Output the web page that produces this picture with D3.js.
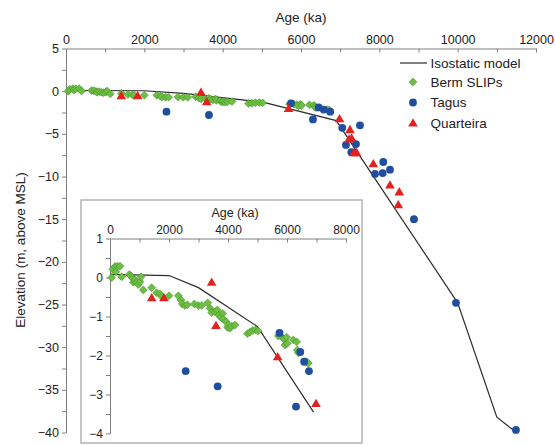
<!DOCTYPE html>
<html>
<head>
<meta charset="utf-8">
<script src="https://cdn.jsdelivr.net/npm/d3@7"></script>
<style>
  body { margin: 0; background: #fff; }
  svg { display: block; font-family: "Liberation Sans", Arial, sans-serif; }
  .axis path, .axis line { stroke: #808080; }
  .axis text { fill: #222; }
</style>
</head>
<body>
<script>
// age (ka) / elevation (m) pairs
var bermSlips = [
  [57, 0.0], [90, 0.21], [169, 0.28], [203, 0.15], [249, 0.29], [339, 0.29],
  [396, 0.02], [655, 0.08], [712, 0.04], [768, -0.02], [791, -0.12], [847, -0.06],
  [904, -0.13], [960, -0.18], [1017, -0.11], [1051, 0.02], [1130, -0.32],
  [1413, -0.26], [1582, -0.39], [1695, -0.42], [1751, -0.49], [2000, -0.47],
  [2316, -0.47], [2407, -0.58], [2452, -0.68], [2542, -0.72], [2621, -0.70],
  [2859, -0.68], [2994, -0.72], [3107, -0.72], [3311, -0.65], [3390, -0.79],
  [3446, -0.90], [3559, -0.88], [3638, -0.83], [3695, -0.96], [3751, -1.02],
  [3819, -0.92], [3841, -1.07], [3932, -1.13], [3989, -1.28], [4011, -1.22],
  [4068, -1.30], [4124, -1.24], [4237, -1.22], [4660, -1.44], [4746, -1.40],
  [4836, -1.36], [4938, -1.34], [5020, -1.37], [5706, -1.50], [5819, -1.52],
  [5898, -1.58], [5989, -1.53], [5932, -1.73], [6011, -1.69], [6215, -1.60],
  [6328, -1.65], [6350, -1.86], [6384, -1.93], [6667, -2.16], [6723, -2.20]
];
var tagus = [
  [2565, -2.40], [3650, -2.79], [5745, -1.42], [6305, -3.31], [6450, -1.91],
  [6580, -2.16], [6745, -2.40], [7054, -4.3], [7148, -6.3], [7285, -7.15],
  [7404, -6.2], [7506, -4.0], [7889, -9.7], [8085, -9.6], [8101, -8.3],
  [8272, -9.2], [8884, -15.0], [9957, -24.8], [11488, -39.7]
];
var quarteira = [
  [1413, -0.52], [1830, -0.52], [3446, -0.12], [3593, -1.23], [5684, -2.03],
  [6983, -3.23], [7225, -5.6], [7250, -4.5], [7293, -5.5], [7353, -7.2],
  [7421, -7.2], [7846, -8.5], [8272, -11.0], [8484, -13.3], [8510, -11.8]
];
var isostaticModel = [
  [0, 0.08], [2000, 0.05], [3000, -0.26], [5000, -1.26], [6900, -3.45],
  [10000, -24.8], [11000, -38.2], [11500, -40]
];

var mainXTicks = d3.range(0, 12001, 1000);
var mainYTicks = d3.range(5, -40.1, -2.5);
var insetXTicks = d3.range(0, 8001, 1000);
var insetYTicks = d3.range(1, -4.1, -0.5);

var legendItems = ['Isostatic model', 'Berm SLIPs', 'Tagus', 'Quarteira'];

var GREEN = '#6cbf43';
var GREEN_EDGE = '#3f8a25';
var BLUE = '#1f4f9e';
var RED = '#e3211f';

var width = 555;
var height = 446;

var svg = d3.select('body').append('svg')
  .attr('width', width)
  .attr('height', height);

var diamond = d3.symbol().type(d3.symbolDiamond2).size(40);
var circle = d3.symbol().type(d3.symbolCircle).size(48);
var triangle = d3.symbol().type(d3.symbolTriangle).size(40);

function labelEvery(step) {
  return function(d) {
    return Math.abs(d % step) < 1e-9 ? d3.format('')(d) : '';
  };
}

function drawPanel(g, x, y, opts) {
  var line = d3.line()
    .x(function(d) { return x(d[0]); })
    .y(function(d) { return y(d[1]); });

  var xAxis = d3.axisTop(x)
    .tickValues(opts.xTicks)
    .tickFormat(labelEvery(2000))
    .tickSizeInner(-4)
    .tickSizeOuter(0)
    .tickPadding(5);

  var yAxis = d3.axisLeft(y)
    .tickValues(opts.yTicks)
    .tickFormat(labelEvery(opts.yLabelStep))
    .tickSizeInner(4)
    .tickSizeOuter(0)
    .tickPadding(3);

  g.append('g')
    .attr('class', 'axis')
    .attr('transform', 'translate(0,' + y.range()[0] + ')')
    .call(xAxis)
    .selectAll('text')
      .attr('font-size', opts.fontSize);

  g.append('g')
    .attr('class', 'axis')
    .attr('transform', 'translate(' + x.range()[0] + ',0)')
    .call(yAxis)
    .selectAll('text')
      .attr('font-size', opts.fontSize);

  var plot = g.append('g');
  if (opts.clipId) {
    plot.attr('clip-path', 'url(#' + opts.clipId + ')');
  }

  plot.append('path')
    .datum(opts.model)
    .attr('fill', 'none')
    .attr('stroke', '#2b2b2b')
    .attr('stroke-width', 1.2)
    .attr('d', line);

  plot.selectAll('.berm')
    .data(opts.berm)
    .enter().append('path')
      .attr('class', 'berm')
      .attr('d', diamond)
      .attr('fill', GREEN)
      .attr('stroke', GREEN_EDGE)
      .attr('stroke-width', 0.5)
      .attr('transform', function(d) {
        return 'translate(' + x(d[0]) + ',' + y(d[1]) + ')';
      });

  plot.selectAll('.tagus')
    .data(opts.tagus)
    .enter().append('path')
      .attr('class', 'tagus')
      .attr('d', circle)
      .attr('fill', BLUE)
      .attr('transform', function(d) {
        return 'translate(' + x(d[0]) + ',' + y(d[1]) + ')';
      });

  plot.selectAll('.quarteira')
    .data(opts.quarteira)
    .enter().append('path')
      .attr('class', 'quarteira')
      .attr('d', triangle)
      .attr('fill', RED)
      .attr('transform', function(d) {
        return 'translate(' + x(d[0]) + ',' + (y(d[1]) + 0.8) + ')';
      });
}

// main chart
var xMain = d3.scaleLinear().domain([0, 12000]).range([66, 536]);
var yMain = d3.scaleLinear().domain([5, -40]).range([48.5, 432.5]);

var mainG = svg.append('g');
drawPanel(mainG, xMain, yMain, {
  xTicks: mainXTicks,
  yTicks: mainYTicks,
  yLabelStep: 5,
  fontSize: 12.5,
  model: isostaticModel,
  berm: bermSlips,
  tagus: tagus,
  quarteira: quarteira
});

svg.append('text')
  .attr('x', (xMain(0) + xMain(12000)) / 2)
  .attr('y', 22)
  .attr('text-anchor', 'middle')
  .attr('font-size', 13.5)
  .attr('fill', '#222')
  .text('Age (ka)');

svg.append('text')
  .attr('transform', 'translate(25,' + 250 + ') rotate(-90)')
  .attr('text-anchor', 'middle')
  .attr('font-size', 13.5)
  .attr('fill', '#222')
  .text('Elevation (m, above MSL)');

// legend
var legend = svg.append('g').attr('transform', 'translate(413,0)');
var legendY = [63, 82, 102.5, 123];
legend.append('line')
  .attr('x1', -13).attr('x2', 14)
  .attr('y1', legendY[0]).attr('y2', legendY[0])
  .attr('stroke', '#2b2b2b').attr('stroke-width', 1.2);
legend.append('path')
  .attr('d', diamond).attr('fill', GREEN).attr('stroke', GREEN_EDGE).attr('stroke-width', 0.5)
  .attr('transform', 'translate(0,' + legendY[1] + ')');
legend.append('path')
  .attr('d', circle).attr('fill', BLUE)
  .attr('transform', 'translate(0,' + legendY[2] + ')');
legend.append('path')
  .attr('d', triangle).attr('fill', RED)
  .attr('transform', 'translate(0,' + (legendY[3] + 0.8) + ')');
legend.selectAll('.legend-label')
  .data(legendItems)
  .enter().append('text')
    .attr('class', 'legend-label')
    .attr('x', 17.5)
    .attr('y', function(d, i) { return legendY[i]; })
    .attr('dy', '0.35em')
    .attr('font-size', 13.5)
    .attr('fill', '#222')
    .text(function(d) { return d; });

// inset
var inset = svg.append('g');
inset.append('rect')
  .attr('x', 81).attr('y', 200)
  .attr('width', 281).attr('height', 243)
  .attr('fill', '#fff')
  .attr('stroke', '#b3b3b3')
  .attr('stroke-width', 1.5);

var xInset = d3.scaleLinear().domain([0, 8000]).range([110, 346]);
var yInset = d3.scaleLinear().domain([1, -4]).range([238.5, 433.5]);

svg.append('defs').append('clipPath')
  .attr('id', 'inset-clip')
  .append('rect')
    .attr('x', 106).attr('y', 234)
    .attr('width', 255).attr('height', 204);

function inInset(d) { return d[0] <= 7000; }

drawPanel(inset, xInset, yInset, {
  xTicks: insetXTicks,
  yTicks: insetYTicks,
  yLabelStep: 1,
  fontSize: 12,
  clipId: 'inset-clip',
  model: isostaticModel.filter(function(d) { return d[0] <= 6900; }),
  berm: bermSlips.filter(inInset),
  tagus: tagus.filter(inInset),
  quarteira: quarteira.filter(inInset)
});

inset.append('text')
  .attr('x', 235)
  .attr('y', 216.5)
  .attr('text-anchor', 'middle')
  .attr('font-size', 12.5)
  .attr('fill', '#222')
  .text('Age (ka)');
</script>
</body>
</html>
